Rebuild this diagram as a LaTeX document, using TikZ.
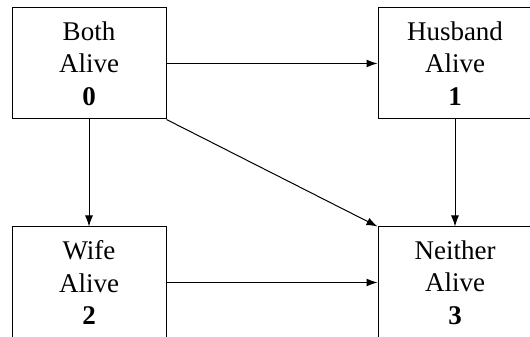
\documentclass[tikz,border=0pt]{standalone}
\usepackage{fontspec}
\setmainfont{Liberation Serif}
\usetikzlibrary{arrows.meta}
\tikzset{
	state/.style={draw, line width=1, minimum width=154, minimum height=111, align=center,
		font=\fontsize{27}{32.5}\selectfont},
	trans/.style={line width=1, -{Latex[length=11, width=8]}}
}
\begin{document}
\begin{tikzpicture}[x=1pt, y=1pt]
		\useasboundingbox (0,0) rectangle (530,337);
		\node[state] at (89,273.5) (B) {Both\\Alive\\\textbf{0}};
		\node[state] at (455,273.5) (H) {Husband\\Alive\\\textbf{1}};
		\node[state] at (89,54.5) (W) {Wife\\Alive\\\textbf{2}};
		\node[state] at (455,54.5) (N) {Neither\\Alive\\\textbf{3}};
		\draw[trans] (B) -- (H);
		\draw[trans] (B) -- (W);
		\draw[trans] (H) -- (N);
		\draw[trans] (W) -- (N);
		\draw[trans] (B.south east) -- (N.north west);
	\end{tikzpicture}
\end{document}
